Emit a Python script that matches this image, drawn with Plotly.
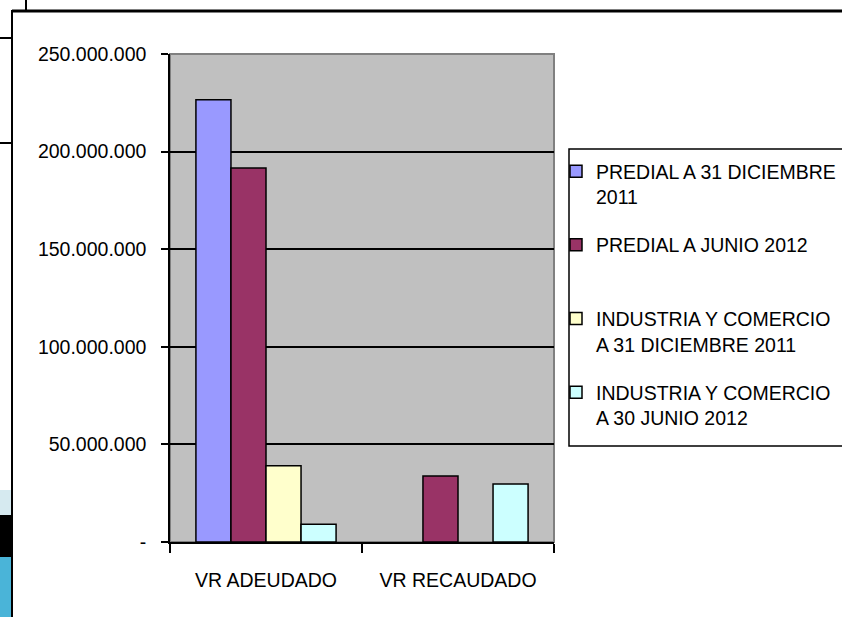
import plotly.graph_objects as go

# ---- data ----
categories = ["VR ADEUDADO", "VR RECAUDADO"]
series_names = [
    "PREDIAL A 31 DICIEMBRE<br>2011",
    "PREDIAL A JUNIO 2012<br> ",
    "INDUSTRIA Y COMERCIO<br>A 31 DICIEMBRE 2011",
    "INDUSTRIA Y COMERCIO<br>A 30 JUNIO 2012",
]
predial_dic_2011 = [226_500_000, None]
predial_jun_2012 = [191_600_000, 33_800_000]
ica_dic_2011 = [39_000_000, None]
ica_jun_2012 = [9_100_000, 29_700_000]
series_values = [predial_dic_2011, predial_jun_2012, ica_dic_2011, ica_jun_2012]
series_colors = ["#9999FF", "#993366", "#FFFFCC", "#CCFFFF"]

y_tick_vals = [0, 50_000_000, 100_000_000, 150_000_000, 200_000_000, 250_000_000]
y_tick_text = ["-", "50.000.000", "100.000.000", "150.000.000", "200.000.000", "250.000.000"]

# ---- layout geometry (page body margin removed in post_script) ----
W, H = 842, 617
ML, MR, MT, MB = 170, 288, 54, 75
PW, PH = W - ML - MR, H - MT - MB


def px_x(x):
    return (x - ML) / PW


def px_y(y):
    return (H - MB - y) / PH


FONT = "Liberation Sans, Arial, sans-serif"
FS = 19.5

fig = go.Figure()
for i, (name, vals, col) in enumerate(zip(series_names, series_values, series_colors)):
    fig.add_trace(go.Bar(
        x=categories, y=vals, name=name, legendgroup=f"g{i}",
        marker=dict(color=col, line=dict(color="black", width=1.5)),
    ))

shapes = []
# plot area border (gray)
shapes.append(dict(type="rect", xref="paper", yref="paper", x0=0, y0=0, x1=1, y1=1,
                   line=dict(color="#808080", width=2), layer="below"))
# legend box
shapes.append(dict(type="rect", xref="paper", yref="paper", x0=px_x(569), x1=px_x(860),
                   y0=px_y(446), y1=px_y(149), line=dict(color="black", width=1.5),
                   fillcolor="white", layer="below"))
# surrounding page decorations
line_k = dict(color="black", width=2)
shapes.append(dict(type="line", xref="paper", yref="paper", x0=px_x(12), x1=px_x(850),
                   y0=px_y(11), y1=px_y(11), line=dict(color="black", width=3)))
shapes.append(dict(type="line", xref="paper", yref="paper", x0=px_x(12), x1=px_x(12),
                   y0=px_y(10), y1=px_y(620), line=line_k))
shapes.append(dict(type="line", xref="paper", yref="paper", x0=px_x(26), x1=px_x(26),
                   y0=px_y(-2), y1=px_y(11), line=line_k))
shapes.append(dict(type="line", xref="paper", yref="paper", x0=px_x(-2), x1=px_x(12),
                   y0=px_y(38), y1=px_y(38), line=line_k))
shapes.append(dict(type="line", xref="paper", yref="paper", x0=px_x(-2), x1=px_x(12),
                   y0=px_y(143), y1=px_y(143), line=line_k))
for (ya, yb, col) in [(490, 515, "#D6EAF0"), (515, 557, "#000000"), (557, 620, "#4AB4D8")]:
    shapes.append(dict(type="rect", xref="paper", yref="paper", x0=px_x(-2), x1=px_x(11),
                       y0=px_y(yb), y1=px_y(ya), fillcolor=col, line=dict(width=0)))

fig.update_layout(
    width=W, height=H,
    margin=dict(l=ML, r=MR, t=MT, b=MB, pad=0, autoexpand=False),
    paper_bgcolor="white",
    plot_bgcolor="#C0C0C0",
    barmode="group",
    bargap=0.27,
    bargroupgap=0,
    font=dict(family=FONT, size=FS, color="black"),
    showlegend=True,
    legend=dict(
        x=px_x(556), y=px_y(152), xanchor="left", yanchor="top",
        bgcolor="rgba(0,0,0,0)", borderwidth=0,
        font=dict(family=FONT, size=FS, color="black"),
        valign="top", traceorder="grouped", tracegroupgap=20,
        itemwidth=30,
    ),
    shapes=shapes,
    xaxis=dict(
        showline=True, linecolor="black", linewidth=2,
        ticks="outside", tickson="boundaries", ticklen=9, tickwidth=1.5, tickcolor="black",
        showgrid=False, ticklabelstandoff=20, automargin=False, tickangle=0,
        tickfont=dict(family=FONT, size=FS),
    ),
    yaxis=dict(
        range=[0, 250_000_000],
        tickvals=y_tick_vals, ticktext=y_tick_text,
        showline=True, linecolor="black", linewidth=1.5,
        ticks="outside", ticklen=7, tickwidth=1.5, tickcolor="black",
        showgrid=True, gridcolor="black", gridwidth=1.5,
        zeroline=False, ticklabelstandoff=11, automargin=False,
        tickfont=dict(family=FONT, size=FS),
    ),
)

fig.write_html(
    "out.html",
    config={"displayModeBar": False},
    post_script="document.body.style.margin='0';document.body.style.overflow='hidden';"
                "document.documentElement.style.overflow='hidden';",
)
